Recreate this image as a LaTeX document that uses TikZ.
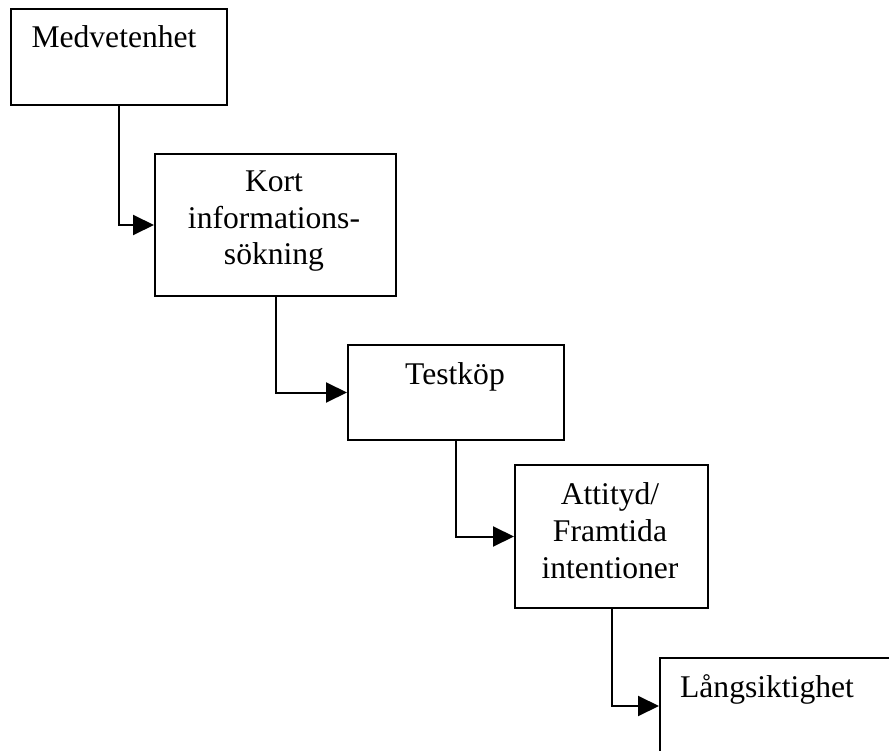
\documentclass[tikz,border=0pt]{standalone}
\usepackage{fontspec}
\setmainfont{Liberation Serif}
\usetikzlibrary{arrows.meta}
\begin{document}
\begin{tikzpicture}[x=1pt,y=-1pt,
  stage/.style={draw,line width=2pt,rectangle,inner sep=0pt,anchor=north west},
  label/.style={anchor=base,inner sep=0pt,align=center,
    font=\fontsize{31.6}{36.6}\selectfont},
  flow/.style={line width=2pt,-{Triangle[length=21pt,width=20pt]}}]
\useasboundingbox (0,0) rectangle (889,751);
\clip (0,0) rectangle (889,751);
% boxes
\node[stage,minimum width=216pt,minimum height=96pt] (b1) at (10,8) {};
\node[stage,minimum width=241pt,minimum height=142pt] (b2) at (154,153) {};
\node[stage,minimum width=216pt,minimum height=95pt] (b3) at (347,344) {};
\node[stage,minimum width=193pt,minimum height=143pt] (b4) at (514,464) {};
\node[stage,minimum width=240pt,minimum height=96pt] (b5) at (659,657) {};
% texts (base anchor sits on the last line of a multi-line label)
\node[label] (t1) at (114,48) {Medvetenhet};
\node[label] (t2) at (274,265) {Kort\\informations-\\sökning};
\node[label] (t3) at (455,384) {Testköp};
\node[label] (t4) at (610,578) {Attityd/\\Framtida\\intentioner};
\node[label] (t5) at (767,697) {Långsiktighet};
% connectors
\draw[flow] (b1.south) |- (b2.west);
\draw[flow] (b2.south) |- (b3.west);
\draw[flow] (b3.south) |- (b4.west);
\draw[flow] (b4.south) |- (b5.west);
\end{tikzpicture}
\end{document}
